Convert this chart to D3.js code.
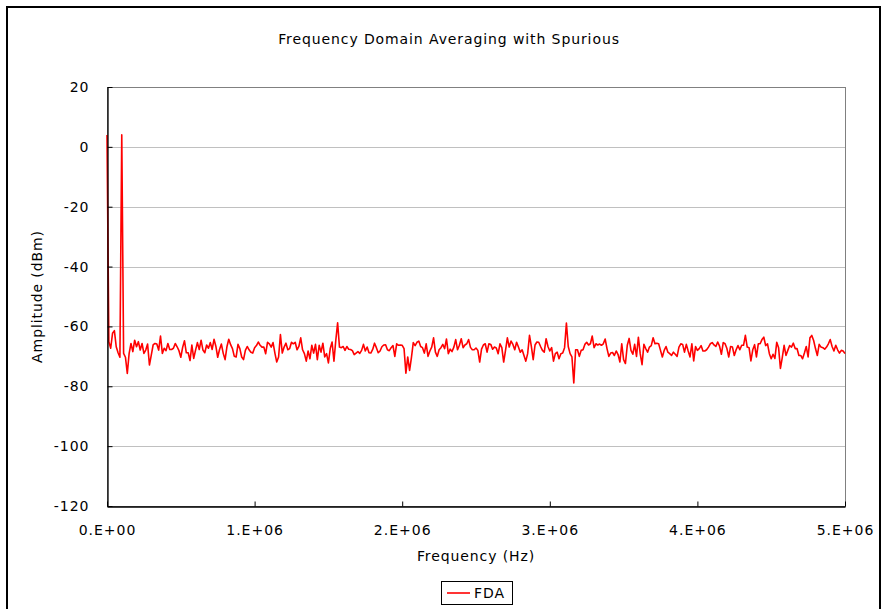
<!DOCTYPE html>
<html><head><meta charset="utf-8">
<script src="https://cdn.jsdelivr.net/npm/d3@7"></script>
<style>
body{margin:0;background:#fff}
svg{display:block}
text{font-family:"DejaVu Sans",Verdana,sans-serif;fill:#000}
</style>
</head><body>
<svg id="chart" width="882" height="609"></svg>
<script>
const chartTitle = "Frequency Domain Averaging with Spurious";
const xAxisTitle = "Frequency (Hz)";
const yAxisTitle = "Amplitude (dBm)";
const seriesName = "FDA";
const freqStepHz = 12500;
const amplitudeDbm = [
 4, -65.1, -67.3, -62.3, -61.4, -66.8, -68.8, -70.3, 4, -69,
 -70.3, -75.7, -69, -65.7, -68.4, -64.6, -66.8, -65.1, -67.9, -65.7,
 -69, -67.9, -65.9, -72.9, -69.6, -66.2, -65.7, -65.9, -67.9, -63.2,
 -69, -67.3, -68.1, -65.7, -67.7, -67.7, -67.3, -65.7, -66.8, -68.1,
 -70.3, -67, -64.8, -68.8, -68.8, -71.4, -66.2, -70.7, -67.9, -65.4,
 -67.7, -64.6, -67.9, -68.8, -66.2, -67.3, -65.4, -67.7, -64.3, -66.6,
 -70.3, -67.7, -65.9, -69, -71.1, -66.8, -64.3, -66.1, -67.4, -70,
 -70.2, -66, -67.4, -70.2, -71.1, -68, -66.7, -67.8, -68.6, -68.9,
 -67.1, -66.4, -65.2, -66.3, -66.9, -66.9, -69.1, -65.3, -65.8, -66.9,
 -65.4, -68.9, -71.9, -70.2, -62.7, -68.9, -66.9, -65.6, -67.8, -67.4,
 -65.3, -65.8, -65.3, -67.8, -66.7, -63.8, -67.8, -69.1, -71.6, -68.2,
 -70.8, -66.3, -68.9, -66, -71.1, -66.3, -68.6, -65.6, -70.2, -69.1,
 -72.2, -67.4, -65.2, -71.6, -64.7, -58.8, -66.9, -67.1, -66.7, -68,
 -66.7, -67.6, -67.7, -68.1, -69.4, -68.9, -68.4, -69, -68, -66,
 -68.2, -66.9, -68.8, -68.9, -67.7, -65.6, -67.1, -68.8, -68.2, -66.8,
 -66.2, -66.1, -67.8, -68.1, -67.1, -66.4, -70, -65.8, -66.3, -66.2,
 -66.3, -67.4, -75.6, -70.2, -74.7, -70.4, -65.4, -66.4, -65.3, -64.9,
 -66.7, -67.1, -68.9, -65.8, -70, -68.2, -66.9, -63.8, -68.6, -70,
 -67.8, -67.1, -66, -67.4, -64.2, -69.1, -67.6, -68.4, -66.9, -64.4,
 -67.8, -66.3, -64.1, -67.1, -66.2, -65.8, -64.4, -67, -67.8, -67.8,
 -67.2, -68, -71.9, -67.6, -66.2, -65.8, -68.6, -65.8, -66, -67.6,
 -66.9, -67.2, -69.1, -65.8, -67.1, -71.9, -68, -63.8, -66.9, -64.9,
 -66, -67.8, -65.3, -66.9, -68.6, -67.8, -69.7, -71.6, -69.1, -63,
 -66.7, -71.1, -66.2, -65.2, -65.3, -66.7, -68, -68.6, -64.1, -66.7,
 -68.2, -67.1, -71.6, -69.1, -68.6, -70.8, -69.1, -68.9, -67.1, -58.9,
 -66.7, -69.1, -70.2, -78.9, -67.8, -67.8, -70, -68, -67.8, -66,
 -65.3, -66.2, -65.8, -63.2, -67.1, -65.8, -66.2, -65.9, -66.3, -65.8,
 -64.2, -67.4, -70, -68.9, -68.7, -69.7, -68.2, -69.4, -71.9, -65.8,
 -71.1, -72.4, -66.3, -64, -68, -69.3, -66, -70, -63.6, -69.1,
 -72.8, -66, -67.4, -68.6, -66.9, -66.4, -63.8, -65.8, -65.6, -65.8,
 -68, -70.2, -68, -66.7, -68.6, -69.1, -69.7, -68.6, -69.3, -70,
 -66.9, -65.8, -66, -68.6, -66, -68.2, -70.2, -65.8, -71.5, -66.7,
 -68, -67.4, -66.4, -68.2, -68.2, -67.8, -66.9, -65.8, -65.4, -66.2,
 -66.7, -65.2, -66.6, -69.3, -65.4, -65.8, -67.4, -70.2, -66.7, -66.9,
 -69.7, -67.8, -66.4, -67.8, -66.3, -66.3, -63, -66.9, -67.1, -71.5,
 -67.8, -66.1, -70.2, -65.8, -65.8, -64.4, -63.6, -66.4, -65.8, -69.1,
 -70.8, -69.3, -70.7, -65.3, -67.1, -74, -70.4, -66.3, -69.7, -68,
 -66.4, -66.9, -65.6, -67.4, -67.4, -69.7, -69.7, -70.8, -68.9, -66.7,
 -70.2, -63.8, -63, -64.7, -67.4, -69.7, -66, -66.9, -67.1, -67.6,
 -66.9, -65.8, -64.4, -66.7, -68.2, -66.3, -67.8, -68.9, -68, -68.2,
 -69.1
];
const xTickValues = [0, 1e6, 2e6, 3e6, 4e6, 5e6];
const xTickLabels = ["0.E+00", "1.E+06", "2.E+06", "3.E+06", "4.E+06", "5.E+06"];
const yTickValues = [-120, -100, -80, -60, -40, -20, 0, 20];
const yTickLabels = ["-120", "-100", "-80", "-60", "-40", "-20", "0", "20"];
const xDomain = [0, 5e6];
const yDomain = [-120, 20];

const points = amplitudeDbm.map((v, i) => ({f: i * freqStepHz, v}));

const svg = d3.select("#chart");
const plot = {left: 107, top: 87, right: 845, bottom: 506};
const x = d3.scaleLinear().domain(xDomain).range([plot.left, plot.right]);
const y = d3.scaleLinear().domain(yDomain).range([plot.bottom, plot.top]);

svg.append("rect").attr("width", 882).attr("height", 609).attr("fill", "#fff");
// outer chart border
svg.append("rect").attr("x", 7).attr("y", 7).attr("width", 873).attr("height", 612)
  .attr("fill", "none").attr("stroke", "#000").attr("stroke-width", 2);

// gridlines
svg.append("g").selectAll("line").data(yTickValues.filter(d => d > yDomain[0]))
  .join("line")
  .attr("x1", plot.left).attr("x2", plot.right)
  .attr("y1", d => Math.round(y(d)) + 0.5).attr("y2", d => Math.round(y(d)) + 0.5)
  .attr("stroke", "#c0c0c0").attr("stroke-width", 1);

// plot border (top/right gray)
svg.append("rect").attr("x", plot.left + 0.5).attr("y", plot.top + 0.5)
  .attr("width", plot.right - plot.left).attr("height", plot.bottom - plot.top)
  .attr("fill", "none").attr("stroke", "#808080").attr("stroke-width", 1);

// series line
svg.append("path").datum(points)
  .attr("fill", "none").attr("stroke", "#ff0000").attr("stroke-width", 1.6)
  .attr("stroke-linejoin", "round")
  .attr("d", d3.line().x(d => x(d.f)).y(d => y(d.v)));

// axes
const yAxis = d3.axisLeft(y).tickValues(yTickValues).tickFormat((d, i) => yTickLabels[i])
  .tickSize(-5).tickSizeOuter(0).tickPadding(18);
const gy = svg.append("g").attr("transform", `translate(${plot.left + 0.5},0)`).call(yAxis);
const xAxis = d3.axisBottom(x).tickValues(xTickValues)
  .tickFormat((d, i) => xTickLabels[i]).tickSize(-5).tickSizeOuter(0).tickPadding(19);
const gx = svg.append("g").attr("transform", `translate(0,${plot.bottom + 0.5})`).call(xAxis);
[gy, gx].forEach(g => {
  g.select(".domain").attr("stroke", "#000").attr("stroke-width", 1.3);
  g.selectAll(".tick line").attr("stroke", "#000");
  g.selectAll("text").attr("font-family", "DejaVu Sans, Verdana, sans-serif")
    .attr("font-size", 14).attr("letter-spacing", 1).attr("fill", "#000");
});

// titles
svg.append("text").attr("x", (plot.left + plot.right) / 2 - 27).attr("y", 44)
  .attr("text-anchor", "middle").attr("font-size", 14).attr("letter-spacing", 0.9)
  .text(chartTitle);
svg.append("text").attr("x", (plot.left + plot.right) / 2).attr("y", 561)
  .attr("text-anchor", "middle").attr("font-size", 14).attr("letter-spacing", 0.9)
  .text(xAxisTitle);
svg.append("text").attr("transform", `translate(42,${(plot.top + plot.bottom) / 2}) rotate(-90)`)
  .attr("text-anchor", "middle").attr("font-size", 14).attr("letter-spacing", 0.9)
  .text(yAxisTitle);

// legend
const lg = svg.append("g");
lg.append("rect").attr("x", 441.5).attr("y", 581.5).attr("width", 71).attr("height", 23)
  .attr("fill", "#fff").attr("stroke", "#000").attr("stroke-width", 1);
lg.append("line").attr("x1", 447).attr("x2", 470).attr("y1", 593).attr("y2", 593)
  .attr("stroke", "#ff0000").attr("stroke-width", 1.6);
lg.append("text").attr("x", 474).attr("y", 598).attr("font-size", 14).attr("letter-spacing", 1)
  .text(seriesName);
</script>
</body></html>
